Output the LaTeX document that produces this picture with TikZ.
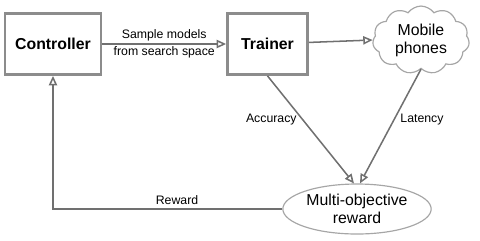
\documentclass[tikz,border=0pt]{standalone}
\usepackage{fontspec}
\setmainfont{Liberation Sans}
\usepackage{xcolor}
\usepackage{tikz}
\usetikzlibrary{shapes.geometric, shapes.symbols, arrows.meta, positioning, calc}
\definecolor{boxgray}{HTML}{8C8C8C}
\definecolor{linegray}{HTML}{707070}
\definecolor{shapegray}{HTML}{A6A6A6}

\begin{document}
\begin{tikzpicture}[x=0.03cm, y=-0.03cm,
    box/.style={rectangle, draw=boxgray, line width=2.4pt, fill=white, font=\fontsize{13.5}{15}\selectfont\bfseries},
    conn/.style={draw=linegray, line width=1.3pt, -{Triangle[open, length=8pt, width=7pt]}},
    lbl/.style={font=\fontsize{10.5}{12}\selectfont, text=black, align=center, inner sep=1pt}]
    \useasboundingbox (0,0) rectangle (480,240);

    % Main blocks
    \node[box, minimum width=2.88cm, minimum height=1.83cm] (ctrl) at (53,44) {Controller};
    \node[box, minimum width=2.4cm, minimum height=1.83cm] (trainer) at (267.5,44) {Trainer};

    % Phones cloud and reward ellipse
    \node[cloud, cloud puffs=11, cloud puff arc=110, aspect=1.5, draw=shapegray, line width=1pt, fill=white,
          minimum width=2.9cm, minimum height=1.9cm, align=center, font=\fontsize{13.5}{15.5}\selectfont] (phones) at (421,40) {Mobile\\phones};
    \node[ellipse, draw=shapegray, line width=1pt, fill=white, minimum width=4.45cm, minimum height=1.5cm,
          align=center, inner sep=1pt, font=\fontsize{13.5}{15.5}\selectfont] (reward) at (357,209) {Multi-objective\\reward};

    % Connectors
    \draw[conn] (ctrl) -- (trainer) node[lbl, midway] {Sample models\\[3pt]from search space};
    \draw[conn] (trainer) -- (phones.west);
    \draw[conn] (trainer.south) -- ($(reward.north)+(-3,0)$);
    \draw[conn] (phones.south) -- ($(reward.north)+(3,0)$);
    \draw[conn] (reward.west) -| (ctrl.south);

    % Edge labels
    \node[lbl, anchor=east] at (298,120) {Accuracy};
    \node[lbl, anchor=west] at (399,120) {Latency};
    \node[lbl] at (177,200) {Reward};
\end{tikzpicture}
\end{document}
